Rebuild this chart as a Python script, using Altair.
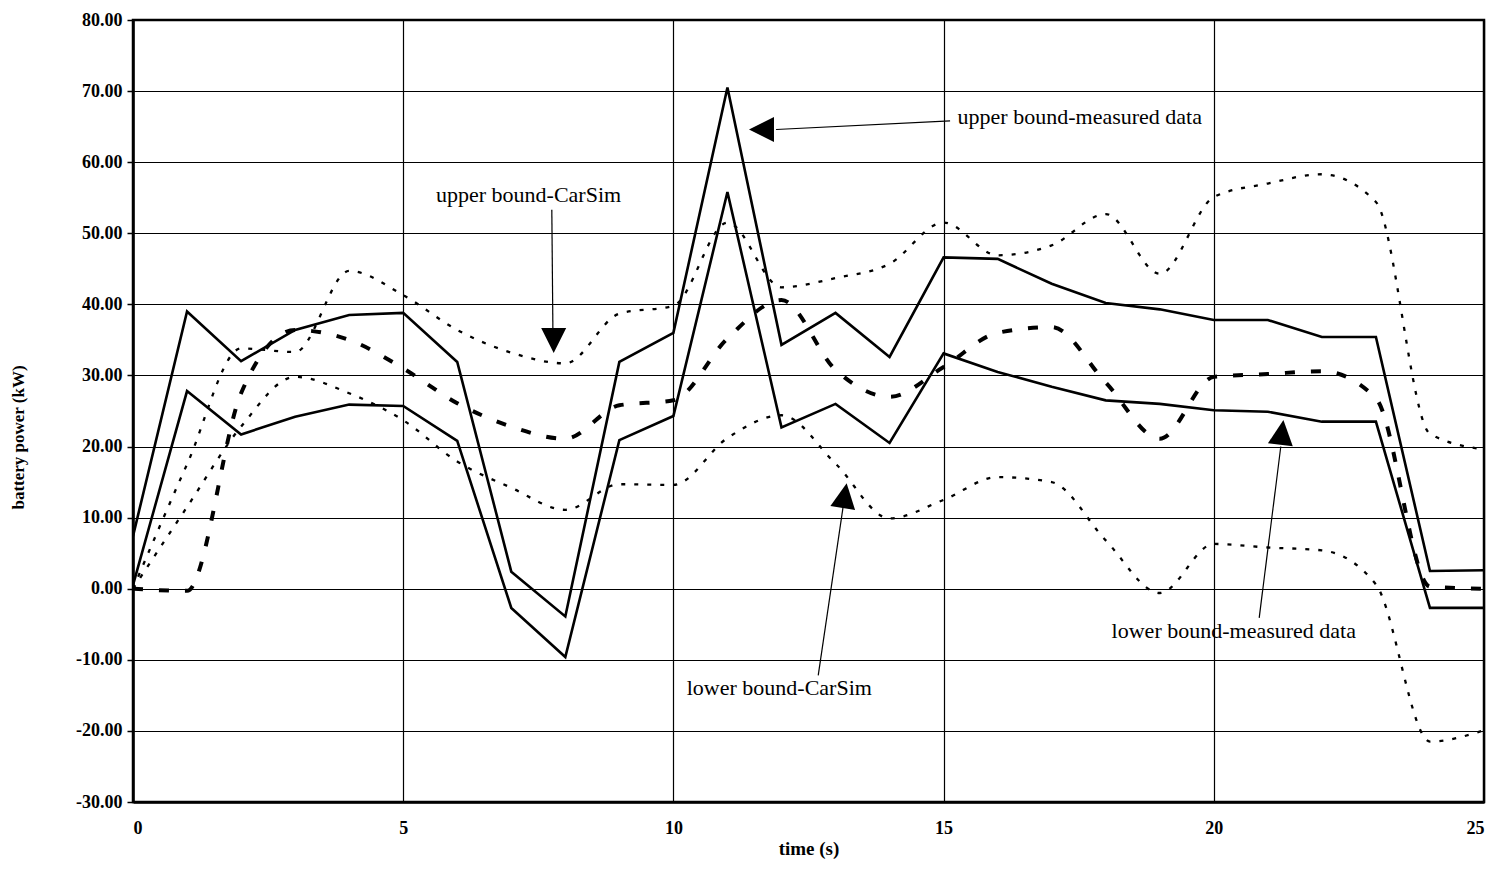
import altair as alt
import pandas as pd

# ---- data ----
time = list(range(26))
upper_measured = [7.4, 39.0, 32.0, 36.4, 38.5, 38.8, 31.9, 2.4, -3.9, 31.9, 36.0, 70.5, 34.3, 38.8,
                  32.6, 46.6, 46.4, 42.9, 40.2, 39.3, 37.8, 37.8, 35.4, 35.4, 2.5, 2.6]
lower_measured = [0.5, 27.8, 21.7, 24.2, 25.9, 25.7, 20.8, -2.7, -9.6, 20.9, 24.3, 55.8, 22.7, 26.0,
                  20.5, 33.1, 30.5, 28.4, 26.5, 26.0, 25.1, 24.9, 23.5, 23.5, -2.7, -2.7]
upper_carsim = [0.0, 17.5, 33.8, 33.3, 44.7, 41.3, 36.4, 33.2, 31.7, 38.7, 39.8, 51.5, 42.4, 43.7,
                45.7, 51.5, 46.9, 48.3, 52.7, 44.3, 55.1, 57.0, 58.3, 54.4, 21.8, 19.6]
lower_carsim = [0.0, 11.5, 22.8, 29.8, 27.5, 23.7, 17.9, 14.2, 11.1, 14.7, 14.6, 21.2, 24.4, 17.6,
                9.9, 12.5, 15.7, 15.0, 6.8, -0.6, 6.3, 5.8, 5.4, 0.6, -21.5, -19.9]
carsim_mean = [0.0, -0.3, 27.5, 36.4, 35.0, 31.0, 26.1, 22.8, 21.1, 25.8, 26.5, 35.2, 40.6, 30.8,
               27.0, 31.2, 36.0, 36.8, 29.0, 21.1, 29.8, 30.2, 30.6, 26.8, 0.3, 0.0]

ann_labels = ["upper bound-measured data", "upper bound-CarSim", "lower bound-CarSim", "lower bound-measured data"]
ann_text_x = [17.52, 7.32, 11.96, 20.37]
ann_text_y = [66.3, 55.4, -14.0, -6.0]
arrow_x1 = [15.12, 7.75, 12.68, 20.84]
arrow_y1 = [65.8, 53.3, -12.2, -4.1]
arrow_x2 = [11.9, 7.77, 13.14, 21.24]
arrow_y2 = [64.6, 36.6, 11.5, 20.0]
head_x = [11.63, 7.785, 13.17, 21.26]
head_y = [64.6, 34.9, 13.1, 22.0]
head_angle = [270, 180, 9, 7]

series_names = ["upper_measured", "lower_measured", "upper_carsim", "lower_carsim", "carsim_mean"]
series_vals = [upper_measured, lower_measured, upper_carsim, lower_carsim, carsim_mean]

rows = []
for n, vals in zip(series_names, series_vals):
    for t, v in zip(time, vals):
        rows.append({"time": t, "power": v, "series": n})
df = pd.DataFrame(rows)

ann_df = pd.DataFrame({"label": ann_labels, "x": ann_text_x, "y": ann_text_y})
arrow_df = pd.DataFrame({"x": arrow_x1, "y": arrow_y1, "x2": arrow_x2, "y2": arrow_y2})
head_df = pd.DataFrame({"x": head_x, "y": head_y, "angle": head_angle})

x_scale = alt.Scale(domain=[0, 25], nice=False, zero=False)
y_scale = alt.Scale(domain=[-30, 80], nice=False, zero=False)

X = alt.X("time:Q", scale=x_scale,
          axis=alt.Axis(title="time (s)", values=[0, 5, 10, 15, 20, 25], format="d",
                        tickSize=0, labelPadding=17, titlePadding=2, titleFontSize=19,
                        labelFontSize=18))
Y = alt.Y("power:Q", scale=y_scale,
          axis=alt.Axis(title="battery power (kW)", values=list(range(-30, 81, 10)),
                        labelExpr="(datum.value < 0 ? '-' : '') + format(abs(datum.value), '.2f')",
                        tickSize=6, labelPadding=5, titleFontSize=17,
                        titleX=-115, titleY=417, titleBaseline="middle", titleAlign="center",
                        titleAngle=270, labelFontSize=18))


def line_layer(name, width, dash=None, interp="linear"):
    kw = dict(color="black", strokeWidth=width, interpolate=interp, clip=True)
    if dash is not None:
        kw["strokeDash"] = dash
    return alt.Chart(df).transform_filter(alt.datum.series == name).mark_line(**kw).encode(x=X, y=Y)


layers = [
    line_layer("upper_carsim", 2.3, [4, 9], "monotone"),
    line_layer("lower_carsim", 2.3, [4, 9], "monotone"),
    line_layer("carsim_mean", 4, [10, 16], "monotone"),
    line_layer("upper_measured", 2.6),
    line_layer("lower_measured", 2.6),
]

arrows = alt.Chart(arrow_df).mark_rule(color="black", strokeWidth=1.2).encode(
    x=alt.X("x:Q", scale=x_scale), y=alt.Y("y:Q", scale=y_scale),
    x2="x2:Q", y2="y2:Q")

heads = alt.Chart(head_df).mark_point(shape="M0,-1L1,1L-1,1Z", filled=True, fill="black",
                                      opacity=1, strokeWidth=0, size=625).encode(
    x=alt.X("x:Q", scale=x_scale), y=alt.Y("y:Q", scale=y_scale),
    angle=alt.Angle("angle:Q", scale=None))

texts = alt.Chart(ann_df).mark_text(font="Liberation Serif", fontSize=22, color="black",
                                    align="center", baseline="middle").encode(
    x=alt.X("x:Q", scale=x_scale), y=alt.Y("y:Q", scale=y_scale), text="label:N")

chart = alt.layer(*layers, arrows, heads, texts).properties(
    width=1351, height=782,
    autosize=alt.AutoSizeParams(type="none"),
    padding={"left": 125, "top": 12, "right": 15, "bottom": 72},
).configure_view(
    stroke="black", strokeWidth=2.5
).configure_axis(
    grid=True, gridColor="black", gridWidth=1.2, gridOpacity=1,
    domainColor="black", domainWidth=2.5, tickColor="black", tickWidth=1.5,
    labelFont="Liberation Serif", labelFontWeight="bold", labelColor="black",
    titleFont="Liberation Serif", titleFontWeight="bold", titleColor="black",
)

chart.save("out.html", embed_options={"renderer": "svg", "actions": False})
